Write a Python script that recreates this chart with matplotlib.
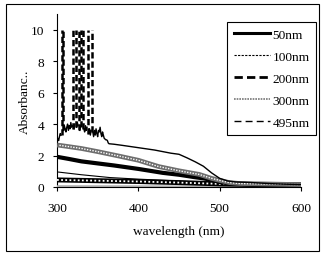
import numpy as np
import matplotlib
matplotlib.use("Agg")
import matplotlib.pyplot as plt
from matplotlib.lines import Line2D
from matplotlib.patches import Rectangle

plt.rcParams['font.family'] = ['Liberation Serif', 'DejaVu Serif']

# ---- data ----
labels = ["50nm", "100nm", "200nm", "300nm", "495nm"]
x_ticks = [300, 400, 500, 600]
y_ticks = [0, 2, 4, 6, 8, 10]

# 50nm : thick black curve
wl_50 = [300, 315, 330, 350, 370, 400, 430, 450, 470, 480, 490, 500, 510, 520, 550, 600]
ab_50 = [1.92, 1.78, 1.63, 1.50, 1.37, 1.15, 0.90, 0.78, 0.62, 0.55, 0.45, 0.32, 0.24, 0.20, 0.17, 0.15]

# 100nm : thin curve
wl_100 = [300, 330, 365, 400, 450, 480, 500, 520, 600]
ab_100 = [0.96, 0.78, 0.60, 0.50, 0.38, 0.30, 0.22, 0.16, 0.10]

# 200nm : noisy curve with saturated (10) points
wl_200 = [300, 301, 302, 303, 304, 305, 306, 307, 308, 309, 310, 311, 312, 313, 314, 315,
          316, 317, 318, 319, 320, 321, 322, 323, 324, 325, 326, 327, 328, 329, 330, 331,
          332, 333, 334, 335, 336, 337, 338, 339, 340, 341, 342, 343, 344, 345, 346, 347,
          348, 349, 350, 351, 352, 353, 354, 355, 356, 357, 358, 359, 360, 361, 362, 363,
          364, 370, 380, 400, 420, 440, 450, 460, 470, 480, 490, 500, 510, 520, 540, 560,
          580, 600]
ab_200 = [2.90, 3.10, 2.95, 3.20, 3.40, 3.30, 10, 10, 3.60, 3.90, 3.70, 3.50, 3.80, 4.00, 3.60, 3.90,
          3.70, 4.10, 3.80, 3.90, 10, 3.70, 4.00, 10, 3.80, 4.10, 3.90, 10, 3.60, 3.90, 10, 3.80,
          10, 3.70, 3.50, 3.90, 3.60, 3.80, 10, 3.40, 3.70, 3.30, 3.60, 10, 3.50, 3.20, 3.60, 3.30,
          3.70, 3.40, 3.20, 3.60, 3.50, 3.80, 3.40, 3.20, 3.50, 3.30, 3.10, 3.05, 3.00, 3.00, 2.95, 2.80,
          2.75, 2.72, 2.65, 2.50, 2.35, 2.15, 2.08, 1.85, 1.60, 1.32, 0.90, 0.55, 0.38, 0.32, 0.28, 0.22,
          0.18, 0.15]

# 300nm : checkered curve
wl_300 = [303, 310, 330, 350, 375, 400, 425, 450, 475, 490, 500, 512, 525, 550, 600]
ab_300 = [2.65, 2.60, 2.45, 2.25, 1.98, 1.70, 1.30, 1.03, 0.80, 0.55, 0.42, 0.28, 0.22, 0.20, 0.15]

# 495nm : beaded low band
wl_495 = [300, 350, 400, 450, 500, 550, 600]
ab_495 = [0.45, 0.40, 0.35, 0.28, 0.20, 0.15, 0.12]

# extra baseline curve (grey, unlabeled)
wl_base = [300, 400, 500, 600]
ab_base = [0.05, 0.04, 0.03, 0.03]

FS = 9.6
W, H = 321, 255
fig = plt.figure(figsize=(W / 100, H / 100), dpi=100)
fig.patch.set_facecolor('white')
fig.add_artist(Rectangle((6 / W, 1 - 252 / H), 313 / W, 247 / H, transform=fig.transFigure,
                         fill=False, edgecolor='black', linewidth=0.8))

ax = fig.add_axes([57 / W, 1 - 188 / H, (301 - 57) / W, (188 - 15) / H])
ax.set_xlim(300, 600)
ax.set_ylim(0, 11)
for s in ['top', 'right']:
    ax.spines[s].set_visible(False)
for s in ['left', 'bottom']:
    ax.spines[s].set_linewidth(0.8)
    ax.spines[s].set_zorder(0.5)
ax.set_xticks(x_ticks)
ax.set_yticks(y_ticks)
ax.tick_params(direction='out', length=3, width=0.8, labelsize=FS)
ax.tick_params(axis='x', pad=8)
ax.tick_params(axis='y', pad=6)

# grey baseline
ax.plot(wl_base, ab_base, color='#a8a8a8', lw=1.4, zorder=2)

# 495nm beaded band
ax.plot(wl_495, ab_495, color='black', lw=3.6, zorder=3, solid_capstyle='butt')
ax.plot(wl_495, ab_495, color='white', lw=1.3, linestyle=(0, (1, 1.3)), zorder=3.1)

# 100nm thin curve
ax.plot(wl_100, ab_100, color='black', lw=0.8, zorder=3)

# 50nm thick
ax.plot(wl_50, ab_50, color='black', lw=3.0, zorder=4)

# 300nm checkered
ax.plot(wl_300, ab_300, color='#6e6e6e', lw=3.4, zorder=4)
ax.plot(wl_300, ab_300, color='white', lw=1.0, linestyle=(0, (1, 1)), zorder=4.1)

# 200nm noisy curve: thin line, saturated points drawn as dashed spikes
x200 = np.array(wl_200, dtype=float)
y200 = np.array(ab_200, dtype=float)
sat = y200 >= 10
ax.plot(x200, np.ma.masked_where(sat, y200), color='black', lw=1.0, zorder=5)
idx = np.where(sat)[0]
base = np.minimum(y200[idx - 1], y200[idx + 1])
ax.vlines(x200[idx], base, y200[idx], colors='black', linewidth=1.8,
          linestyles=[(0, (2.5, 1.2))], zorder=5)

ax.set_xlabel('wavelength (nm)', fontsize=FS, labelpad=8)
ax.set_ylabel('Absorbanc..', fontsize=FS, labelpad=0)

handles = [
    Line2D([], [], color='black', lw=2.2),
    Line2D([], [], color='black', lw=0.8, linestyle=(0, (2, 1.2))),
    Line2D([], [], color='black', lw=2.0, linestyle=(0, (3, 1.5))),
    Line2D([], [], color='#777777', lw=1.2, linestyle=(0, (1, 0.6))),
    Line2D([], [], color='black', lw=1.0, linestyle=(0, (5, 3))),
]
leg = fig.legend(handles, labels, loc='upper left', bbox_to_anchor=(227 / W, 1 - 23 / H),
                 bbox_transform=fig.transFigure, fontsize=FS, handlelength=2.7,
                 handletextpad=0.2, labelspacing=0.72, borderpad=0.5, borderaxespad=0,
                 fancybox=False, framealpha=1, edgecolor='black')
leg.get_frame().set_linewidth(0.8)

fig.savefig('out.png', dpi=100)
